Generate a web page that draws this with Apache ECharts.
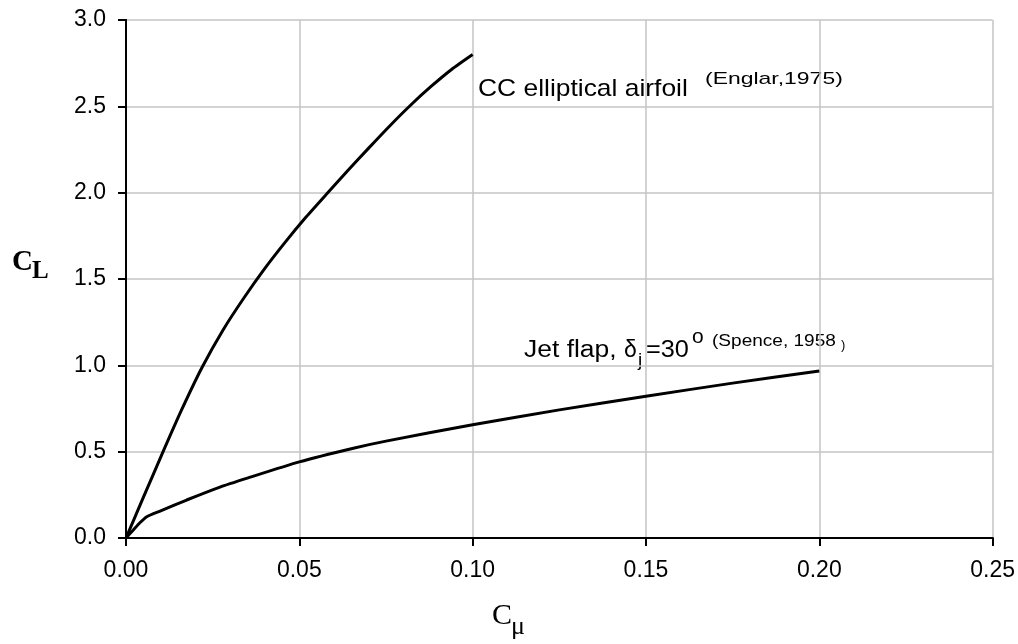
<!DOCTYPE html>
<html>
<head>
<meta charset="utf-8">
<script src="https://cdn.jsdelivr.net/npm/echarts@6/dist/echarts.min.js"></script>
<style>
html,body{margin:0;padding:0;background:#fff;}
#chart{width:1018px;height:644px;}
</style>
</head>
<body>
<div id="chart"></div>
<script>
// CC elliptical airfoil (Englar, 1975)
var ccCmu = [0, 0.005, 0.0107, 0.016, 0.022, 0.028, 0.034, 0.040, 0.046, 0.052, 0.058, 0.064, 0.070, 0.076, 0.082, 0.088, 0.094, 0.100];
var ccCL  = [0, 0.235, 0.50, 0.74, 0.99, 1.205, 1.39, 1.56, 1.715, 1.86, 1.995, 2.128, 2.258, 2.385, 2.505, 2.615, 2.715, 2.80];
// Jet flap, delta_j = 30 deg (Spence, 1958)
var jfCmu = [0, 0.0021, 0.004, 0.006, 0.01, 0.0175, 0.0271, 0.035, 0.05, 0.0656, 0.075, 0.10, 0.125, 0.15, 0.175, 0.20];
var jfCL  = [0, 0.046, 0.088, 0.123, 0.157, 0.22, 0.295, 0.347, 0.441, 0.52, 0.561, 0.656, 0.742, 0.821, 0.897, 0.967];
// axis ticks
var xTicks = [0, 0.05, 0.10, 0.15, 0.20, 0.25];
var yTicks = [0, 0.5, 1.0, 1.5, 2.0, 2.5, 3.0];

function pairs(xs, ys){ return xs.map(function(x,i){ return [x, ys[i]]; }); }

var chart = echarts.init(document.getElementById('chart'), null, {renderer:'canvas'});
var sans = '"Liberation Sans", Arial, sans-serif';
var frame = {show:true, lineStyle:{color:'#000', width:2}};
var option = {
  animation:false,
  backgroundColor:'#fff',
  grid:{left:126, top:20, right:25, bottom:106, containLabel:false},
  xAxis:[{
    type:'value', min:xTicks[0], max:xTicks[xTicks.length-1], interval:0.05,
    axisLine:frame,
    axisTick:{show:true, inside:false, length:8, lineStyle:{color:'#000', width:2}},
    axisLabel:{fontSize:23, fontFamily:sans, color:'#000', margin:21, formatter:function(v){return v.toFixed(2);}},
    splitLine:{show:true, lineStyle:{color:'#c4c4c4', width:1.5}}
  },{
    type:'value', position:'top', min:xTicks[0], max:xTicks[xTicks.length-1], interval:0.05,
    axisLine:frame, axisTick:{show:false}, axisLabel:{show:false}, splitLine:{show:false}
  }],
  yAxis:[{
    type:'value', min:yTicks[0], max:yTicks[yTicks.length-1], interval:0.5,
    axisLine:frame,
    axisTick:{show:true, inside:false, length:8, lineStyle:{color:'#000', width:2}},
    axisLabel:{fontSize:23, fontFamily:sans, color:'#000', margin:20, formatter:function(v){return v.toFixed(1);}},
    splitLine:{show:true, lineStyle:{color:'#c4c4c4', width:1.5}}
  },{
    type:'value', position:'right', min:yTicks[0], max:yTicks[yTicks.length-1], interval:0.5,
    axisLine:frame, axisTick:{show:false}, axisLabel:{show:false}, splitLine:{show:false}
  }],
  series:[
    {type:'line', xAxisIndex:0, yAxisIndex:0, data:pairs(ccCmu, ccCL), symbol:'none', smooth:0.2, lineStyle:{color:'#000', width:3}},
    {type:'line', xAxisIndex:0, yAxisIndex:0, data:pairs(jfCmu, jfCL), symbol:'none', smooth:0.2, lineStyle:{color:'#000', width:3}}
  ],
  graphic:[
    // axis titles
    {type:'text', left:12, top:248, style:{text:'C', font:'bold 29px "Liberation Serif", serif', fill:'#000'}},
    {type:'text', left:32, top:259, style:{text:'L', font:'bold 25px "Liberation Serif", serif', fill:'#000'}},
    {type:'text', left:492, top:601, style:{text:'C', font:'30px "Liberation Serif", serif', fill:'#000'}},
    {type:'text', left:511, top:614, style:{text:'\u03bc', font:'26px "Liberation Serif", serif', fill:'#000'}},
    // CC annotation
    {type:'text', left:478, top:77, scaleX:1.1, style:{text:'CC elliptical airfoil', font:'24px ' + sans, fill:'#000'}},
    {type:'text', left:705, top:71, scaleX:1.35, style:{text:'(Englar,1975)', font:'17px ' + sans, fill:'#000'}},
    // Jet flap annotation
    {type:'text', left:524, top:339, scaleX:1.15, style:{text:'Jet flap,', font:'23px ' + sans, fill:'#000'}},
    {type:'text', left:624, top:339, style:{text:'\u03b4', font:'23px ' + sans, fill:'#000'}},
    {type:'text', left:638, top:351, style:{text:'j', font:'19px ' + sans, fill:'#000'}},
    {type:'text', left:646, top:339, scaleX:1.1, style:{text:'=30', font:'23px ' + sans, fill:'#000'}},
    {type:'text', left:692, top:327, style:{text:'o', font:'21px ' + sans, fill:'#000'}},
    {type:'text', left:712, top:333, scaleX:1.12, style:{text:'(Spence, 1958', font:'17px ' + sans, fill:'#000'}},
    {type:'text', left:841, top:339, style:{text:')', font:'13px ' + sans, fill:'#000'}}
  ]
};
chart.setOption(option);
</script>
</body>
</html>
